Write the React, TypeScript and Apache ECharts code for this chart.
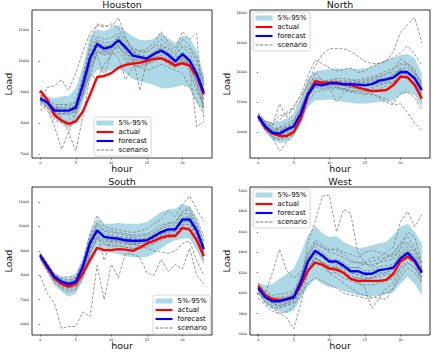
import { useEffect, useRef } from 'react';
import * as echarts from 'echarts';

const HOURS = [0, 1, 2, 3, 4, 5, 6, 7, 8, 9, 10, 11, 12, 13, 14, 15, 16, 17, 18, 19, 20, 21, 22, 23];
const X_TICKS = [0, 5, 10, 15, 20];

// ---------------- Houston ----------------
const HOUSTON_Y_TICKS = [7000, 8000, 9000, 10000, 11000];
const HOUSTON_ACTUAL = [9050, 8750, 8260, 8080, 7970, 8050, 8370, 8910, 9480, 9520, 9610, 9790, 9880, 9920, 9950, 10010, 10070, 10090, 9990, 9860, 9930, 9850, 9520, 8930];
const HOUSTON_FORECAST = [8790, 8660, 8400, 8400, 8400, 8500, 9230, 10090, 10550, 10400, 10470, 10670, 10440, 10180, 10130, 10080, 10230, 10340, 10200, 9990, 10220, 10020, 9590, 8980];
const HOUSTON_LOWER = [8690, 8480, 8150, 7970, 7830, 7990, 8640, 9390, 9720, 9660, 9700, 9770, 9610, 9420, 9340, 9290, 9230, 9120, 9120, 9160, 9230, 9120, 8640, 8420];
const HOUSTON_UPPER = [8910, 8860, 8800, 8860, 8880, 9120, 9830, 10800, 11010, 10960, 11070, 11170, 10960, 10800, 10690, 10670, 10710, 10900, 10740, 10580, 10820, 10740, 10360, 9560];
const HOUSTON_SCENARIOS = [
  [8750, 9150, 9200, 9400, 9050, 9600, 10300, 10900, 11150, 11100, 11200, 11050, 10700, 10400, 10300, 10250, 10500, 10700, 10500, 10300, 10700, 10500, 10100, 9200],
  [8700, 8500, 7900, 7150, 7700, 8300, 9000, 10000, 10500, 10300, 10400, 10800, 10300, 10000, 10100, 9900, 10100, 10200, 10000, 9800, 10100, 9900, 9200, 8500],
  [8850, 8600, 8300, 8200, 7700, 7100, 8200, 9500, 10300, 10200, 10300, 10500, 10100, 9900, 9800, 9900, 10000, 10100, 9900, 9800, 9950, 9700, 9000, 8600],
  [8800, 8700, 8500, 8600, 8600, 8700, 9500, 10500, 11200, 11150, 11100, 11400, 10800, 10300, 10200, 10100, 10300, 10500, 10400, 10200, 10500, 10400, 10000, 9400],
  [8750, 8550, 8300, 8300, 8250, 8400, 8900, 9700, 10200, 9500, 10300, 10100, 9400, 9800, 9900, 9900, 10000, 10100, 9950, 9800, 10000, 9900, 9300, 8800],
  [8800, 8700, 8450, 8500, 8500, 8550, 9300, 10200, 10600, 10500, 10550, 10700, 10500, 10200, 9050, 10000, 10200, 10450, 10300, 10100, 10300, 10100, 9700, 9100],
  [8850, 8750, 8500, 8450, 8450, 8600, 9400, 10300, 10700, 10600, 10600, 10800, 10600, 10300, 10200, 10150, 10300, 10400, 10250, 10050, 10300, 9800, 7880, 8050],
  [8700, 8650, 8350, 8300, 8350, 8450, 9100, 9900, 10450, 10300, 10400, 10550, 10350, 10050, 10000, 10000, 10150, 10300, 10100, 9900, 10100, 9950, 9500, 8700],
  [8800, 8700, 8400, 8350, 8400, 8500, 9200, 10100, 10500, 10400, 10500, 10700, 10500, 10300, 10300, 10400, 10600, 10950, 10600, 10400, 10950, 10700, 10900, 8100],
  [8650, 8500, 8250, 8300, 8300, 8400, 9000, 9800, 10300, 10200, 10250, 10450, 10200, 9950, 9950, 9950, 10100, 10200, 10050, 9900, 10050, 9850, 9300, 8500],
  [8900, 8800, 8600, 8600, 8550, 8650, 9500, 10400, 10800, 10700, 10750, 10900, 10700, 10400, 10350, 10300, 10450, 10550, 10400, 10200, 10450, 10250, 9800, 9300],
  [8600, 8400, 8100, 8000, 8100, 8300, 8900, 9600, 9400, 9900, 10200, 10300, 10000, 9900, 9800, 9700, 9800, 9900, 9800, 9700, 9600, 9200, 8700, 8300],
  [8800, 8700, 8500, 8500, 8400, 8600, 9300, 10150, 10650, 10450, 10500, 10750, 10500, 10250, 10150, 10100, 10250, 10300, 10250, 10050, 10250, 10050, 9600, 9000],
  [8400, 8600, 8450, 8400, 8300, 8350, 8900, 9900, 10350, 10250, 10350, 10500, 10250, 10100, 10050, 10050, 10250, 10350, 10150, 9950, 10200, 9950, 9500, 8900],
];

// ---------------- North ----------------
const NORTH_Y_TICKS = [10000, 12000, 14000, 16000, 18000];
const NORTH_ACTUAL = [11060, 10270, 9890, 9730, 9730, 10000, 10900, 12480, 13420, 13310, 13310, 13330, 13220, 13150, 13000, 12860, 12750, 12770, 12820, 13150, 13720, 13670, 13150, 12250];
const NORTH_FORECAST = [11060, 10380, 9950, 9890, 10160, 10380, 11240, 12550, 13220, 13130, 13270, 13270, 13200, 13220, 13180, 13130, 13220, 13450, 13540, 13650, 14030, 14010, 13610, 12820];
const NORTH_LOWER = [10830, 10000, 9480, 9260, 9320, 9660, 10560, 11690, 12140, 12140, 12190, 12140, 12030, 11960, 11920, 11920, 11960, 12010, 12030, 12140, 12480, 12640, 12480, 11690];
const NORTH_UPPER = [11240, 10790, 10610, 10680, 10900, 11240, 12250, 13610, 14060, 14170, 14210, 14280, 14240, 14280, 14240, 14280, 14390, 14620, 14850, 14960, 15180, 15250, 14960, 13940];
const NORTH_SCENARIOS = [
  [11100, 10700, 10600, 11100, 11200, 11500, 12100, 13300, 14400, 15200, 15600, 15600, 15600, 15400, 15100, 14750, 14600, 14600, 14750, 15400, 16700, 17200, 17700, 16000],
  [11000, 10500, 10400, 11900, 11000, 11700, 12500, 13800, 14800, 14600, 14300, 14100, 14200, 14300, 14000, 14100, 14400, 14600, 14800, 15000, 15300, 15800, 15200, 14500],
  [11100, 10300, 9700, 8700, 9300, 9900, 11000, 12400, 13100, 13300, 13400, 13200, 13100, 13000, 12900, 12800, 12600, 12300, 12000, 11800, 11900, 11300, 10600, 10100],
  [11000, 10400, 10100, 10300, 10600, 10800, 11700, 12700, 14000, 13500, 13000, 12000, 12600, 13000, 13200, 13400, 13500, 13700, 13900, 14200, 14900, 14600, 14200, 13000],
  [10900, 10200, 9700, 9500, 9600, 9900, 10700, 12000, 12700, 12800, 12900, 12900, 12800, 12700, 12800, 12700, 12900, 13100, 13300, 13300, 13700, 13800, 13300, 12000],
  [11000, 10500, 10100, 10000, 10200, 10500, 11400, 12600, 13300, 13300, 13400, 13400, 13300, 13400, 13300, 13300, 13400, 13600, 13700, 13800, 14200, 14100, 13700, 12900],
  [11200, 10600, 10200, 10300, 10400, 10700, 11600, 12900, 13500, 13400, 13500, 13500, 13400, 13300, 13300, 13200, 13300, 13500, 13600, 13800, 14300, 14300, 13900, 13100],
  [10800, 10100, 9600, 9500, 9800, 10100, 10900, 12300, 13000, 12900, 13000, 13000, 12900, 13000, 12900, 12900, 13000, 13200, 13300, 13400, 13800, 13700, 13300, 12500],
  [11100, 10400, 10000, 10200, 10300, 10400, 11200, 12500, 13400, 13200, 13100, 13300, 13400, 13500, 13400, 13300, 13200, 13300, 13500, 13900, 14200, 14100, 13500, 12500],
  [11000, 10300, 9900, 9700, 9900, 10200, 11000, 12400, 13200, 13300, 13200, 13000, 12900, 12800, 12700, 12600, 12500, 12400, 12200, 11900, 12600, 12700, 12300, 11500],
  [11200, 10600, 10300, 10100, 10300, 10600, 11500, 12800, 13300, 13200, 13300, 13400, 13300, 13300, 13400, 13500, 13600, 13800, 13900, 14000, 14500, 14600, 14000, 13300],
  [11000, 10400, 9900, 9800, 10000, 10300, 11100, 12500, 13100, 13000, 13200, 13200, 13100, 13100, 13100, 13100, 13200, 13300, 13400, 13600, 13900, 13900, 13500, 12700],
  [11300, 10700, 10500, 10800, 11300, 11700, 12400, 13200, 13600, 13500, 13300, 13100, 12900, 12700, 12600, 12500, 12700, 12900, 13100, 13300, 13700, 13600, 13100, 12300],
  [10900, 10300, 10000, 10100, 10300, 10600, 11300, 12400, 13000, 13200, 13400, 13600, 13600, 13500, 13500, 13600, 13700, 13900, 14100, 14300, 14600, 14500, 14000, 13300],
];

// ---------------- South ----------------
const SOUTH_Y_TICKS = [6000, 7000, 8000, 9000, 10000, 11000];
const SOUTH_ACTUAL = [8790, 8320, 7870, 7640, 7530, 7640, 8070, 8620, 9120, 9030, 9030, 9070, 9050, 9000, 9130, 9300, 9410, 9540, 9610, 9610, 9940, 9870, 9430, 8790];
const SOUTH_FORECAST = [8820, 8370, 7940, 7730, 7640, 7730, 8340, 9320, 9840, 9570, 9530, 9500, 9430, 9410, 9410, 9430, 9600, 9770, 9880, 9880, 10280, 10290, 9840, 9070];
const SOUTH_LOWER = [8640, 8140, 7590, 7320, 7120, 7250, 7800, 8550, 9090, 8960, 8920, 8860, 8780, 8750, 8730, 8750, 8890, 9090, 9300, 9430, 9500, 9500, 9030, 8410];
const SOUTH_UPPER = [8920, 8510, 8100, 7940, 7910, 8070, 8680, 9770, 10320, 10110, 10110, 10140, 10110, 10110, 10110, 10180, 10390, 10590, 10690, 10730, 10930, 10820, 10320, 9430];
const SOUTH_SCENARIOS = [
  [8000, 7250, 6850, 5820, 5900, 5900, 6500, 6300, 8400, 7000, 8450, 7900, 8900, 8850, 8750, 8100, 8000, 8650, 8150, 8450, 8250, 9100, 8000, 7650],
  [8900, 8500, 8000, 7900, 7950, 7900, 8600, 9700, 10450, 10000, 9900, 9850, 9800, 9750, 9800, 9900, 10100, 10300, 10650, 10400, 10900, 11250, 10700, 10200],
  [8800, 8300, 7850, 7650, 7550, 7650, 8250, 9250, 9900, 9500, 9450, 9450, 9400, 9350, 9350, 9400, 9550, 9700, 9800, 9850, 10200, 10350, 9800, 9000],
  [8750, 8250, 7800, 7600, 7450, 7550, 8100, 9050, 9700, 9400, 9350, 9300, 9250, 9250, 9200, 9250, 9400, 9550, 9650, 9700, 10050, 10100, 9650, 8800],
  [8850, 8400, 8000, 7800, 7700, 7800, 8450, 9450, 10000, 9700, 9650, 9600, 9550, 9550, 9500, 9550, 9700, 9900, 10000, 10050, 10500, 10550, 10000, 9200],
  [8700, 8200, 7700, 7500, 7400, 7450, 8000, 8900, 9550, 9250, 9200, 9200, 9150, 9100, 9100, 9150, 9300, 9450, 9550, 9600, 9950, 9950, 9500, 8600],
  [8800, 8350, 7900, 7750, 7700, 7800, 8400, 9350, 9800, 8600, 9500, 9400, 9300, 9250, 9300, 9400, 9500, 9650, 9750, 9800, 10150, 10200, 9700, 8900],
  [8900, 8450, 8050, 7850, 7800, 7900, 8500, 9550, 10150, 9850, 9800, 9750, 9700, 9650, 9650, 9700, 9850, 10050, 10150, 10200, 10600, 10700, 10100, 9400],
  [8750, 8300, 7850, 7650, 7600, 7700, 8300, 9300, 9800, 9550, 9500, 9450, 9350, 9300, 9200, 9100, 9000, 8950, 8900, 9000, 9300, 9400, 8600, 8000],
  [8850, 8400, 7950, 7700, 7600, 7700, 8300, 9250, 9750, 9600, 9600, 9550, 9500, 9500, 9450, 9500, 9650, 9800, 9900, 9950, 10350, 10400, 9900, 9100],
  [8800, 8300, 7800, 7550, 7500, 7550, 8150, 9150, 9850, 9500, 9450, 9400, 9400, 9350, 9400, 9450, 9600, 9750, 9850, 9800, 10250, 10200, 9750, 8900],
  [8650, 8150, 7700, 7450, 7300, 7400, 7900, 8850, 9500, 9300, 9250, 9200, 9150, 9100, 9150, 9250, 9400, 9600, 9700, 9650, 10050, 10100, 9600, 8800],
  [8750, 8350, 7950, 7800, 7750, 7850, 8500, 9500, 10100, 9800, 9750, 9700, 9650, 9600, 9600, 9650, 9750, 9950, 10100, 10150, 10600, 10800, 10300, 9600],
  [8850, 8400, 7900, 7650, 7550, 7600, 8200, 9100, 9600, 9400, 9400, 9350, 9350, 9300, 9300, 9350, 9500, 9700, 9850, 9900, 10300, 10450, 9900, 9200],
];

// ---------------- West ----------------
const WEST_Y_TICKS = [3600, 3800, 4000, 4200, 4400, 4600, 4800, 5000];
const WEST_ACTUAL = [4070, 3980, 3940, 3930, 3940, 3960, 4080, 4220, 4300, 4280, 4240, 4230, 4200, 4140, 4120, 4120, 4120, 4120, 4130, 4190, 4310, 4360, 4310, 4210];
const WEST_FORECAST = [4050, 3960, 3920, 3920, 3940, 3960, 4110, 4310, 4415, 4370, 4310, 4310, 4270, 4215, 4215, 4190, 4190, 4225, 4235, 4250, 4340, 4395, 4320, 4200];
const WEST_LOWER = [4010, 3900, 3850, 3820, 3800, 3830, 3950, 4060, 4140, 4090, 4060, 4050, 4020, 4000, 3980, 3970, 3970, 3980, 3990, 4010, 4090, 4160, 4090, 3980];
const WEST_UPPER = [4100, 4080, 4090, 4140, 4190, 4240, 4390, 4570, 4660, 4590, 4550, 4560, 4500, 4470, 4440, 4450, 4470, 4490, 4500, 4570, 4650, 4680, 4600, 4490];
const WEST_SCENARIOS = [
  [4050, 4000, 4200, 4430, 4220, 4150, 4200, 4350, 4450, 4400, 4350, 4300, 4250, 4200, 4180, 4150, 4150, 4180, 4200, 4250, 4400, 4450, 4350, 4200],
  [4000, 3950, 3900, 3880, 3900, 3950, 4100, 4500, 4700, 4950, 4960, 4600, 4820, 4780, 4400, 4300, 4250, 4300, 4350, 4400, 4500, 4550, 4450, 4250],
  [4000, 3900, 3850, 3800, 3760, 3650, 3900, 4200, 4350, 4300, 4250, 4250, 4200, 4150, 4100, 4050, 3850, 3950, 4050, 4100, 4250, 4350, 4300, 4150],
  [4100, 4000, 3950, 3950, 3950, 3980, 4150, 4300, 4400, 4350, 4300, 4300, 4250, 4250, 4250, 4300, 4350, 4350, 4400, 4450, 4700, 4800, 4650, 4770],
  [4050, 3950, 3900, 3880, 3900, 3920, 4050, 4250, 4350, 4300, 4250, 4250, 4200, 4150, 4150, 4130, 4150, 4200, 4200, 4230, 4300, 4350, 4280, 4150],
  [4080, 4000, 3960, 3960, 3970, 3990, 4150, 4380, 4480, 4450, 4400, 4380, 4350, 4300, 4300, 4280, 4280, 4300, 4320, 4330, 4430, 4480, 4400, 4250],
  [4020, 3920, 3880, 3870, 3880, 3900, 4020, 4200, 4300, 4260, 4200, 4200, 4150, 4120, 4100, 4080, 4080, 4100, 4120, 4150, 4250, 4300, 4250, 4120],
  [4050, 3980, 3950, 3940, 3960, 4000, 4150, 4350, 4500, 4450, 4420, 4440, 4400, 4380, 4350, 4400, 4420, 4400, 4380, 4350, 4450, 4600, 4550, 4300],
  [4000, 3920, 3860, 3850, 3880, 3920, 4050, 4250, 4350, 4300, 4200, 4150, 4100, 4050, 4000, 3980, 3960, 3950, 3940, 4050, 4200, 4300, 4250, 4150],
  [4080, 3980, 3940, 3930, 3950, 3980, 4130, 4330, 4420, 4380, 4320, 4330, 4300, 4250, 4250, 4220, 4220, 4260, 4270, 4280, 4380, 4420, 4360, 4230],
  [3950, 3880, 3820, 3800, 3820, 3870, 4000, 4100, 4150, 4120, 4080, 4050, 4000, 3980, 3970, 3950, 3950, 3980, 4000, 4050, 4150, 4250, 4200, 4100],
  [4100, 4020, 3980, 3990, 4000, 4020, 4180, 4400, 4520, 4480, 4430, 4420, 4380, 4320, 4300, 4300, 4310, 4330, 4350, 4380, 4480, 4500, 4420, 4300],
  [4030, 3960, 3930, 3920, 3940, 3970, 4100, 4300, 4380, 4350, 4300, 4280, 4240, 4200, 4180, 4170, 4180, 4220, 4240, 4260, 4360, 4420, 4330, 4220],
  [4060, 3970, 3920, 3900, 3910, 3940, 4070, 4230, 4330, 4310, 4270, 4260, 4220, 4170, 4150, 4140, 4150, 4160, 4180, 4200, 4300, 4380, 4320, 4220],
];

const FONT = '"DejaVu Sans", sans-serif';
const BAND = '#add8e6';
const RED = '#ff0000';
const BLUE = '#0000ff';
const GRAY = '#808080';
const LINE_ICON = 'path://M0,0h16v2h-16z';
const DASH_ICON = 'path://M0,0h3v1h-3zM4.3,0h3v1h-3zM8.6,0h3v1h-3zM12.9,0h3v1h-3z';

const GRID_W = 180;
const GRID_H = 148;

const PANELS = [
  { title: 'Houston', left: 32, top: 10, yMin: 6870, yMax: 11650, yTicks: HOUSTON_Y_TICKS, legendLeft: 94, legendTop: 117,
    lower: HOUSTON_LOWER, upper: HOUSTON_UPPER, actual: HOUSTON_ACTUAL, forecast: HOUSTON_FORECAST, scenarios: HOUSTON_SCENARIOS },
  { title: 'North', left: 250, top: 10, yMin: 8250, yMax: 18200, yTicks: NORTH_Y_TICKS, legendLeft: 253, legendTop: 12,
    lower: NORTH_LOWER, upper: NORTH_UPPER, actual: NORTH_ACTUAL, forecast: NORTH_FORECAST, scenarios: NORTH_SCENARIOS },
  { title: 'South', left: 32, top: 187, yMin: 5550, yMax: 11615, yTicks: SOUTH_Y_TICKS, legendLeft: 153, legendTop: 295,
    lower: SOUTH_LOWER, upper: SOUTH_UPPER, actual: SOUTH_ACTUAL, forecast: SOUTH_FORECAST, scenarios: SOUTH_SCENARIOS },
  { title: 'West', left: 250, top: 187, yMin: 3590, yMax: 5040, yTicks: WEST_Y_TICKS, legendLeft: 253, legendTop: 189,
    lower: WEST_LOWER, upper: WEST_UPPER, actual: WEST_ACTUAL, forecast: WEST_FORECAST, scenarios: WEST_SCENARIOS },
];

function bandRender(params: any, api: any) {
  if (params.dataIndexInside !== 0) return null;
  const n = params.dataInsideLength;
  const up: number[][] = [];
  const lo: number[][] = [];
  for (let k = 0; k < n; k++) {
    const x = api.value(0, k);
    up.push(api.coord([x, api.value(2, k)]));
    lo.push(api.coord([x, api.value(1, k)]));
  }
  return {
    type: 'polygon',
    shape: { points: up.concat(lo.reverse()) },
    style: { fill: BAND, stroke: null },
  };
}

function buildOption() {
  const series: any[] = [];
  PANELS.forEach((p, i) => {
    series.push({
      type: 'custom', name: '5%-95%', xAxisIndex: i, yAxisIndex: i, z: 1, silent: true,
      itemStyle: { color: BAND }, encode: { x: 0, y: [1, 2] },
      data: HOURS.map((h, k) => [h, p.lower[k], p.upper[k]]),
      renderItem: bandRender,
    });
    p.scenarios.forEach((sc) => {
      series.push({
        type: 'line', name: 'scenario', xAxisIndex: i, yAxisIndex: i, z: 2, silent: true,
        color: GRAY, symbol: 'none',
        lineStyle: { color: GRAY, width: 0.8, type: [3, 1.6] },
        data: HOURS.map((h, k) => [h, sc[k]]),
      });
    });
    series.push({
      type: 'line', name: 'actual', xAxisIndex: i, yAxisIndex: i, z: 3, silent: true,
      color: RED, symbol: 'none', lineStyle: { color: RED, width: 2.4 },
      data: HOURS.map((h, k) => [h, p.actual[k]]),
    });
    series.push({
      type: 'line', name: 'forecast', xAxisIndex: i, yAxisIndex: i, z: 3, silent: true,
      color: BLUE, symbol: 'none', lineStyle: { color: BLUE, width: 2.4 },
      data: HOURS.map((h, k) => [h, p.forecast[k]]),
    });
  });

  return {
    animation: false,
    textStyle: { fontFamily: FONT },
    title: PANELS.map((p) => ({
      text: p.title, left: p.left + GRID_W / 2, top: p.top - 10.5, textAlign: 'center', padding: 0,
      textStyle: { fontSize: 9.5, fontWeight: 'normal', color: '#111', fontFamily: FONT },
    })),
    grid: PANELS.map((p) => ({
      left: p.left, top: p.top, width: GRID_W, height: GRID_H, show: true,
      borderColor: '#000', borderWidth: 0.8, backgroundColor: 'transparent',
      containLabel: false, outerBoundsMode: 'none',
    })),
    xAxis: PANELS.map((p, i) => ({
      type: 'value', gridIndex: i, min: -1.15, max: 24.15,
      name: 'hour', nameLocation: 'middle', nameGap: 5.5, nameMoveOverlap: false,
      nameTextStyle: { fontSize: 9.5, fontWeight: 'normal', color: '#111', fontFamily: FONT },
      axisLine: { show: false }, splitLine: { show: false },
      axisTick: { show: true, length: 1.5, lineStyle: { color: '#000', width: 0.5 }, customValues: X_TICKS },
      axisLabel: { fontSize: 3.3, color: '#000', margin: 3, customValues: X_TICKS, formatter: (v: number) => String(v), fontFamily: FONT },
    })),
    yAxis: PANELS.map((p, i) => ({
      type: 'value', gridIndex: i, min: p.yMin, max: p.yMax,
      name: 'Load', nameLocation: 'middle', nameGap: 19, nameRotate: 90, nameMoveOverlap: false,
      nameTextStyle: { fontSize: 9.5, fontWeight: 'normal', color: '#111', fontFamily: FONT },
      axisLine: { show: false }, splitLine: { show: false },
      axisTick: { show: true, length: 1.5, lineStyle: { color: '#000', width: 0.5 }, customValues: p.yTicks },
      axisLabel: { fontSize: 3.3, color: '#000', margin: 3, customValues: p.yTicks, formatter: (v: number) => String(v), fontFamily: FONT },
    })),
    legend: PANELS.map((p) => ({
      orient: 'vertical', left: p.legendLeft, top: p.legendTop,
      padding: [2.5, 3, 2.5, 2.5], itemWidth: 17, itemHeight: 5, itemGap: 2,
      backgroundColor: 'rgba(255,255,255,0.8)', borderColor: '#cccccc', borderWidth: 0.8, borderRadius: 2,
      selectedMode: false,
      itemStyle: { borderWidth: 0 },
      textStyle: { fontSize: 7, lineHeight: 7, color: '#000', fontFamily: FONT },
      data: [
        { name: '5%-95%', icon: 'rect' },
        { name: 'actual', icon: LINE_ICON },
        { name: 'forecast', icon: LINE_ICON },
        { name: 'scenario', icon: DASH_ICON },
      ],
    })),
    series,
  };
}

export default function App() {
  const ref = useRef<HTMLDivElement>(null);
  useEffect(() => {
    if (!ref.current) return;
    const chart = echarts.init(ref.current, undefined, { renderer: 'svg' });
    chart.setOption(buildOption() as any);
    return () => chart.dispose();
  }, []);
  return (
    <div
      ref={ref}
      style={{ position: 'absolute', left: 0, top: 0, width: 436, height: 354, background: '#fff' }}
    />
  );
}
